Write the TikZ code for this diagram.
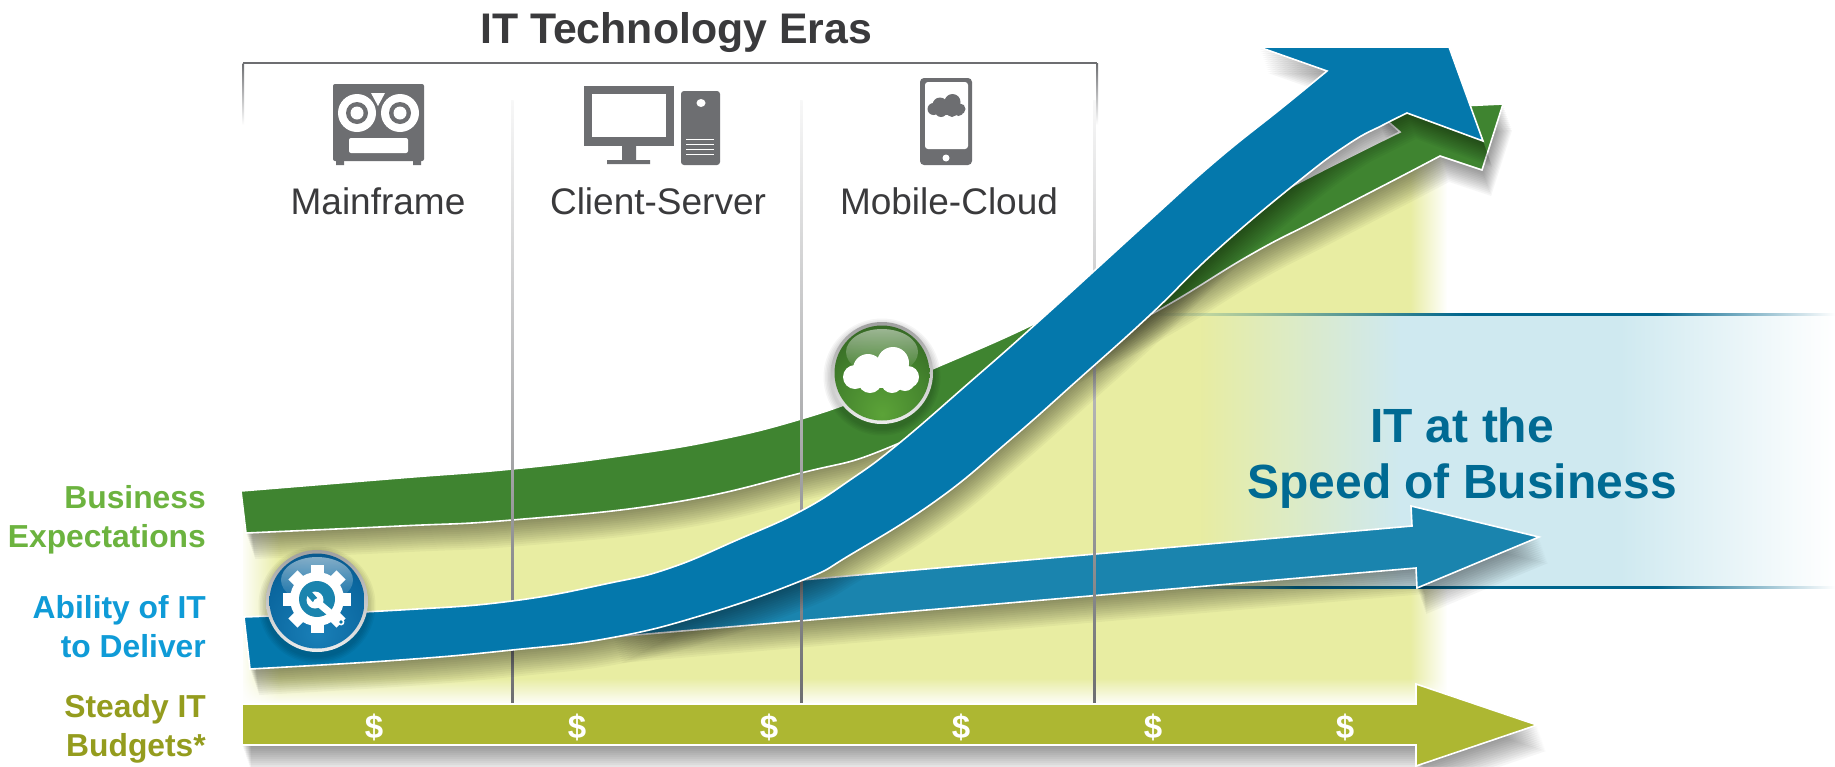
\documentclass[tikz,border=0pt]{standalone}
\usepackage{xcolor}
\usepackage{fontspec}
\setmainfont{Liberation Sans}
\usetikzlibrary{positioning, fadings}

\definecolor{bizgreen}{HTML}{3F8430}
\definecolor{itblue}{HTML}{0478AC}
\definecolor{itblueb}{HTML}{1A84AE}
\definecolor{budgetolive}{HTML}{ADB732}
\definecolor{areayellow}{HTML}{E8EDA2}
\definecolor{bandblue}{HTML}{CFE9F0}
\definecolor{bandline}{HTML}{00658D}
\definecolor{icongray}{HTML}{6D6E71}
\definecolor{eragray}{HTML}{6D6E71}
\definecolor{titlegray}{HTML}{3A3A3C}
\definecolor{lblgreen}{HTML}{6CB33F}
\definecolor{lblblue}{HTML}{0F9BD7}
\definecolor{lblolive}{HTML}{949C1E}
\definecolor{speedblue}{HTML}{006A93}

\tikzfading[name=fadeeast, left color=transparent!100, right color=transparent!0]
\tikzfading[name=fadewest, left color=transparent!0, right color=transparent!100]
\tikzfading[name=fadesouth, top color=transparent!100, bottom color=transparent!0]
\tikzfading[name=fadegloss, top color=transparent!50, bottom color=transparent!100]

\pgfdeclareradialshading{greenball}{\pgfpoint{0bp}{-22bp}}{rgb(0bp)=(.36,.64,.22); rgb(24bp)=(.27,.52,.18); rgb(50bp)=(.17,.33,.12); rgb(100bp)=(.12,.25,.08)}
\pgfdeclareradialshading{blueball}{\pgfpoint{0bp}{-18bp}}{rgb(0bp)=(.10,.50,.72); rgb(30bp)=(.04,.40,.62); rgb(55bp)=(.02,.22,.38); rgb(100bp)=(.01,.15,.28)}
\pgfdeclarehorizontalshading{topline}{100bp}{color(0bp)=(areayellow); color(25bp)=(areayellow); color(48bp)=(bandline); color(62bp)=(bandline); color(75bp)=(white); color(100bp)=(white)}
\pgfdeclarehorizontalshading{bottomline}{100bp}{color(0bp)=(areayellow); color(25bp)=(areayellow); color(36bp)=(bandline); color(62bp)=(bandline); color(75bp)=(white); color(100bp)=(white)}

\newcommand{\greenarrow}{plot[smooth,tension=.75] coordinates {(241,491) (400,478) (512,469) (620,456) (717,440) (801,419) (870,395) (930,370) (1038,322) (1130,272) (1220,225) (1310,177) (1400,132)}
    -- (1375,110) -- (1503,104) -- (1482,170)
    -- plot[smooth,tension=.75] coordinates {(1440,156) (1400,177) (1317,220) (1250,255) (1150,315) (1020,382) (890,447) (801,473) (670,503) (512,520) (400,526) (246,533)} -- cycle}
\newcommand{\bluearrow}{plot[smooth,tension=.75] coordinates {(244,617) (400,610) (512,601) (610,583) (670,568) (737,540) (801,511) (850,480) (897,445) (970,382) (1038,322) (1150,220) (1217,160) (1283,107) (1327,71)}
    -- (1259,47) -- (1449,47) -- (1483,141)
    -- plot[smooth,tension=.75] coordinates {(1407,113) (1383,125) (1350,143) (1300,180) (1217,250) (1150,315) (1080,378) (1010,440) (937,500) (850,555) (803,580) (703,615) (610,638) (512,650) (400,660) (250,669)} -- cycle}
\newcommand{\midarrow}{(612,637) -- (700,589) -- (1412,526) -- (1411,506) -- (1539,537) -- (1417,588) -- (1416,568) -- cycle}
\newcommand{\budgetarrow}{(242,704) -- (1416,704) -- (1416,684) -- (1537,725) -- (1416,766) -- (1416,745) -- (242,745) -- cycle}

\newcommand{\softshadow}[1]{\foreach \s in {2,4,...,26} \fill[black, opacity=.035, shift={(\s*.35,\s)}] #1;}
\newcommand{\cloudicon}[4]{\begin{scope}[shift={(#1,#2)}, scale=#3]
        \fill[#4] (-26,7) circle (12);
        \fill[#4] (-13,-1) circle (15);
        \fill[#4] (12,-7) circle (16);
        \fill[#4] (27,7) circle (11);
        \fill[#4] (-11,11) circle (12);
        \fill[#4] (11,12) circle (11);
        \fill[#4] (24,11) circle (10);
        \fill[#4] (-14,-3) rectangle (16,18);
    \end{scope}}

\tikzset{
    x=1pt, y=-1pt,
    eraline/.style={top color=eragray!5, middle color=eragray!50, bottom color=eragray, draw=none},
    eraname/.style={inner sep=0, anchor=base, text=titlegray, font=\fontsize{37}{40}\selectfont},
    sidelabel/.style={inner sep=0, anchor=base east, align=right, font=\fontsize{31.8}{38.6}\selectfont\bfseries},
    dollar/.style={inner sep=0, text=white, font=\fontsize{33}{36}\selectfont\bfseries},
    arrowedge/.style={draw=white, line width=1.6pt, line join=miter},
    badgering/.style={top color=gray!75, bottom color=gray!15, draw=none},
}

\begin{document}
\begin{tikzpicture}
    \path[use as bounding box, clip] (0,0) rectangle (1835,766);
    \fill[white] (0,0) rectangle (1835,766);

    \fill[areayellow] (243,510) -- (512,495) -- (801,440) -- (1150,290) -- (1450,140) -- (1450,703) -- (243,703) -- cycle;
    \fill[white, path fading=fadeeast] (1410,130) rectangle (1447,705);
    \fill[white] (1447,130) rectangle (1460,705);
    \fill[white, path fading=fadesouth] (236,678) rectangle (1460,705);
    \fill[white, path fading=fadewest] (240,500) rectangle (280,705);

    \fill[bandblue, path fading=fadeeast] (1200,315) rectangle (1400,587);
    \fill[bandblue] (1400,315) rectangle (1620,587);
    \shade[left color=bandblue, right color=white] (1620,315) rectangle (1835,587);
    \shade[shading=topline] (1150,313.5) rectangle (1835,315.5);
    \shade[shading=bottomline] (1150,586) rectangle (1835,588);

    \draw[eragray, line width=1.2pt] (243,63) -- (1097,63);
    \shade[top color=eragray, bottom color=white] (242.5,63) rectangle (244,125);
    \shade[top color=eragray, bottom color=white] (1096.5,63) rectangle (1098,125);

    \softshadow{\greenarrow}
    \fill[bizgreen] \greenarrow;
    \draw[arrowedge] \greenarrow;

    \softshadow{\midarrow}
    \fill[itblueb] \midarrow;
    \draw[arrowedge] \midarrow;

    \shade[eraline] (511,100) rectangle (513.5,703);
    \shade[eraline] (800,100) rectangle (802.5,703);
    \shade[eraline] (1093,100) rectangle (1095.5,703);

    \softshadow{\budgetarrow}
    \fill[budgetolive] \budgetarrow;
    \draw[arrowedge] \budgetarrow;

    \softshadow{\bluearrow}
    \fill[itblue] \bluearrow;
    \draw[arrowedge] \bluearrow;

    % mainframe icon
    \fill[icongray, rounded corners=2] (333,84) rectangle (424,161);
    \fill[icongray] (336,158) rectangle (344,165) (413,158) rectangle (421,165);
    \fill[white] (357,113) circle (19) (400,113) circle (19);
    \fill[icongray] (357,113) circle (11) (400,113) circle (11);
    \fill[white] (357,113) circle (6.5) (400,113) circle (6.5);
    \fill[white] (371,93) -- (385,93) -- (378,106) -- cycle;
    \fill[white, rounded corners=2] (349,138) rectangle (408,153);

    % client and server icon
    \fill[icongray] (584,86) rectangle (674,146);
    \fill[white] (592,94) rectangle (666,137);
    \fill[icongray] (622,146) rectangle (636,161) (607,160) rectangle (650,164);
    \fill[icongray, rounded corners=3] (681,91) rectangle (720,165);
    \fill[white] (701,103) ellipse (4.5 and 4);
    \foreach \ypos in {139,144,149,154}
        \fill[white] (686,\ypos) rectangle (714,\ypos+1);

    % phone icon
    \fill[icongray, rounded corners=4] (920,78) rectangle (972,165);
    \fill[white, rounded corners=3] (925,82) rectangle (968,149);
    \fill[white] (946,158) circle (3.5);
    \cloudicon{946.5}{105.5}{.5}{icongray}

    % badges
    \foreach \w in {3,6,...,15} \fill[black, opacity=.04] (882,377) circle (51+\w/2);
    \shade[badgering] (882,373) circle (51);
    \shade[shading=greenball] (882,373) circle (47.5);
    \fill[white, path fading=fadegloss] (882,352) ellipse (36 and 23);
    \cloudicon{881}{370}{1}{white}

    \foreach \w in {3,6,...,15} \fill[black, opacity=.04] (317,605) circle (51+\w/2);
    \shade[badgering] (317,601) circle (51);
    \shade[shading=blueball] (317,601) circle (47.5);
    \fill[white, path fading=fadegloss] (317,580) ellipse (36 and 23);
    \foreach \a in {0,45,...,315}
        \fill[white, rotate around={\a:(317,599)}] (310.5,565) rectangle (323.5,585);
    \fill[white] (317,599) circle (27);
    \fill[itblueb] (317,599) circle (18);
    \fill[white] (315,600) circle (8.5);
    \draw[itblueb, line width=6pt] (315,600) -- (307,591);
    \draw[white, line width=7pt, line cap=round] (317,602) -- (341,622);
    \fill[itblue] (341,622) circle (1.8);

    % labels
    \node[inner sep=0, anchor=base, text=titlegray, font=\fontsize{42.8}{46}\selectfont\bfseries] (titlelbl) at (676,43) {IT Technology Eras};
    \node[eraname] (mainframelbl) at (378,214) {Mainframe};
    \node[eraname] (clientlbl) at (658,214) {Client-Server};
    \node[eraname] (mobilelbl) at (949,214) {Mobile-Cloud};

    \node[sidelabel, text=lblgreen] (bizlbl) at (206,547) {Business\\Expectations};
    \node[sidelabel, text=lblblue] (abilitylbl) at (206,657) {Ability of IT\\to Deliver};
    \node[sidelabel, text=lblolive] (budgetlbl) at (206,756) {Steady IT\\Budgets*};

    \node[inner sep=0, anchor=base, align=center, text=speedblue, font=\fontsize{48}{56}\selectfont\bfseries] (speedlbl) at (1462,498) {IT at the\\Speed of Business};

    \foreach \xpos [count=\i] in {374,577,769,961,1153,1345}
        \node[dollar] (dollar\i) at (\xpos,727) {\$};
\end{tikzpicture}
\end{document}
